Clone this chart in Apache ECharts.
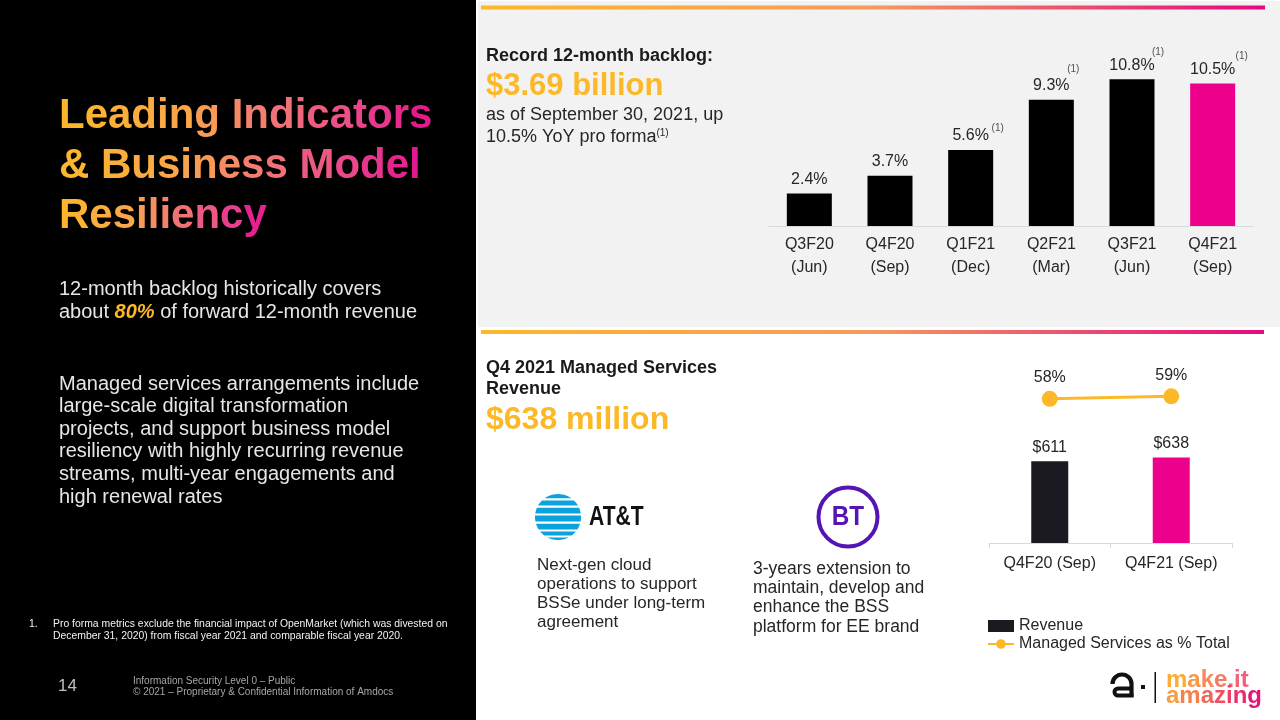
<!DOCTYPE html>
<html><head><meta charset="utf-8">
<script src="https://cdn.jsdelivr.net/npm/echarts@6/dist/echarts.min.js"></script>
<style>html,body{margin:0;padding:0;background:#fff}#c{width:1280px;height:720px}</style>
</head><body><div id="c"></div>
<script>
// ---------- data ----------
const backlogCategories = ['Q3F20\n(Jun)','Q4F20\n(Sep)','Q1F21\n(Dec)','Q2F21\n(Mar)','Q3F21\n(Jun)','Q4F21\n(Sep)'];
const backlogGrowth = [2.4, 3.7, 5.6, 9.3, 10.8, 10.5];
const backlogProForma = [false, false, true, true, true, true];
const msCategories = ['Q4F20 (Sep)', 'Q4F21 (Sep)'];
const msRevenue = [611, 638];
const msSharePct = [58, 59];

// ---------- styles ----------
const FONT = '"Liberation Sans", Arial, sans-serif';
const ORANGE = '#FDB827';
const MAGENTA = '#EC008C';
const DARK = '#262626';
const supOffsets = [[0,0],[0,0],[27,-22],[22,-30],[26,-27],[29,-27]];

const G = echarts.graphic;
function hGrad(stops){ return new G.LinearGradient(0,0,1,0, stops.map(c=>({offset:c[0], color:c[1]}))); }
const lineGrad = () => hGrad([[0,'#FDB827'],[0.5,'#F49A5E'],[1,'#E5097F']]);
const TITLE_STOPS = [[0,'#FDB829'],[0.35,'#F9A54C'],[0.55,'#F27B72'],[0.8,'#E9478C'],[1,'#E3138E']];

function txt(x, y, text, o){
  o = o || {};
  return { type:'text', x:x, y:y, z:o.z||5, scaleX:o.scaleX||1, style: Object.assign({
    text:text, fill:o.fill||DARK,
    font:(o.weight||'normal')+' '+(o.size||16)+'px '+(o.family||FONT),
    textVerticalAlign:'middle', verticalAlign:'middle', textAlign:o.align||'left', align:o.align||'left'
  }, o.style||{}) };
}

// per-character colour blend for gradient text
const mctx = document.createElement('canvas').getContext('2d');
function hex2rgb(h){ h=h.replace('#',''); return [parseInt(h.substr(0,2),16),parseInt(h.substr(2,2),16),parseInt(h.substr(4,2),16)]; }
function colorAt(stops, t){
  t=Math.max(0,Math.min(1,t));
  for(let i=1;i<stops.length;i++){
    if(t<=stops[i][0]){
      const a=stops[i-1], b=stops[i]; const f=(t-a[0])/(b[0]-a[0]||1);
      const ca=hex2rgb(a[1]), cb=hex2rgb(b[1]);
      return 'rgb('+ca.map((v,k)=>Math.round(v+(cb[k]-v)*f)).join(',')+')';
    }
  }
  return stops[stops.length-1][1];
}
function gradText(x, y, text, size, weight, stops){
  const font = weight+' '+size+'px '+FONT;
  mctx.font = font;
  const total = mctx.measureText(text).width;
  const out = [];
  for(let i=0;i<text.length;i++){
    const ch = text[i]; if(ch===' ') continue;
    const pre = mctx.measureText(text.slice(0,i)).width;
    const w = mctx.measureText(ch).width;
    out.push({type:'text', x:x+pre, y:y, z:5, style:{text:ch, font:font, fill:colorAt(stops,(pre+w/2)/total),
      textVerticalAlign:'middle', verticalAlign:'middle', textAlign:'left', align:'left'}});
  }
  return out;
}

// ---------- decoration / text ----------
const elems = [];
elems.push({type:'rect', z:-10, shape:{x:0,y:0,width:476,height:720}, style:{fill:'#000'}});
elems.push({type:'rect', z:-10, shape:{x:478,y:1,width:802,height:326}, style:{fill:'#F2F2F2'}});
elems.push({type:'rect', z:-9, shape:{x:481,y:5.5,width:784,height:4}, style:{fill:lineGrad()}});
elems.push({type:'rect', z:-9, shape:{x:481,y:330,width:783,height:4}, style:{fill:lineGrad()}});

// left panel
elems.push(...gradText(59,116,'Leading Indicators',42,'bold',TITLE_STOPS));
elems.push(...gradText(59,166,'& Business Model',42,'bold',TITLE_STOPS));
elems.push(...gradText(59,216,'Resiliency',42,'bold',TITLE_STOPS));
elems.push(txt(59,289,'12-month backlog historically covers',{size:20,fill:'#E6E6E6'}));
elems.push(txt(59,312,'about {b|80%} of forward 12-month revenue',{size:20,fill:'#E6E6E6',style:{rich:{b:{fill:ORANGE,color:ORANGE,fontWeight:'bold',fontStyle:'italic',fontSize:20,fontFamily:FONT}}}}));
['Managed services arrangements include','large-scale digital transformation','projects, and support business model','resiliency with highly recurring revenue','streams, multi-year engagements and','high renewal rates']
  .forEach((s,i)=>elems.push(txt(59,384+i*22.6,s,{size:20,fill:'#E6E6E6'})));
elems.push(txt(29,624,'1.',{size:10.4,fill:'#F2F2F2'}));
elems.push(txt(53,624,'Pro forma metrics exclude the financial impact of OpenMarket (which was divested on',{size:10.4,fill:'#F2F2F2'}));
elems.push(txt(53,636,'December 31, 2020) from fiscal year 2021 and comparable fiscal year 2020.',{size:10.4,fill:'#F2F2F2'}));
elems.push(txt(58,686,'14',{size:17,fill:'#BFBFBF'}));
elems.push(txt(133,681,'Information Security Level 0 \u2013 Public',{size:10,fill:'#A6A6A6'}));
elems.push(txt(133,692,'\u00A9 2021 \u2013 Proprietary & Confidential Information of Amdocs',{size:10,fill:'#A6A6A6'}));

// top panel text
elems.push(txt(486,56,'Record 12-month backlog:',{size:18,weight:'bold',fill:'#1A1A1A'}));
elems.push(txt(486,86,'$3.69 billion',{size:31,weight:'bold',fill:ORANGE}));
elems.push(txt(486,115,'as of September 30, 2021, up',{size:18,fill:DARK}));
elems.push(txt(486,137,'10.5% YoY pro forma{s|(1)}',{size:18,fill:DARK,style:{rich:{s:{fontSize:10,fontFamily:FONT,fill:DARK,color:DARK,verticalAlign:'top'}}}}));

// bottom panel text
elems.push(txt(486,368,'Q4 2021 Managed Services',{size:18,weight:'bold',fill:'#1A1A1A'}));
elems.push(txt(486,389,'Revenue',{size:18,weight:'bold',fill:'#1A1A1A'}));
elems.push(txt(486,420,'$638 million',{size:32,weight:'bold',fill:ORANGE}));
['Next-gen cloud','operations to support','BSSe under long-term','agreement'].forEach((s,i)=>elems.push(txt(537,565+i*19,s,{size:17,fill:DARK})));
['3-years extension to','maintain, develop and','enhance the BSS','platform for EE brand'].forEach((s,i)=>elems.push(txt(753,569+i*19.3,s,{size:17.5,fill:DARK})));

// AT&T globe
(function(){
  const cx=558, cy=517, r=23;
  const bands=[[-23,-18.8],[-16.6,-11.4],[-9.2,-3.6],[-1.4,4.6],[6.8,12.4],[14.4,18.6],[20.4,23]];
  bands.forEach(b=>{
    const pts=[]; const n=10;
    for(let k=0;k<=n;k++){const dy=b[0]+(b[1]-b[0])*k/n; pts.push([cx+Math.sqrt(Math.max(0,r*r-dy*dy)), cy+dy]);}
    for(let k=n;k>=0;k--){const dy=b[0]+(b[1]-b[0])*k/n; pts.push([cx-Math.sqrt(Math.max(0,r*r-dy*dy)), cy+dy]);}
    elems.push({type:'polygon', z:5, shape:{points:pts}, style:{fill:'#0AA3DE'}});
  });
  elems.push({type:'text', x:589, y:518, z:5, scaleX:0.78, style:{text:'AT&T', font:'bold 27px '+FONT, fill:'#111', textVerticalAlign:'middle', verticalAlign:'middle'}});
})();
// BT logo
elems.push({type:'circle', z:5, shape:{cx:848,cy:517,r:29.5}, style:{fill:'none',stroke:'#5514B4',lineWidth:4}});
elems.push({type:'text', x:848, y:518, z:5, scaleX:0.9, style:{text:'BT', font:'bold 27px '+FONT, fill:'#5514B4', textAlign:'center', align:'center', textVerticalAlign:'middle', verticalAlign:'middle'}});

// amdocs logo
elems.push({type:'arc', z:5, shape:{cx:1122,cy:684,r:9.5,startAngle:Math.PI,endAngle:2*Math.PI,clockwise:true}, style:{stroke:'#111',lineWidth:4.2,fill:null}});
elems.push({type:'line', z:5, shape:{x1:1131.5,y1:684,x2:1131.5,y2:697}, style:{stroke:'#111',lineWidth:4.2}});
elems.push({type:'line', z:5, shape:{x1:1118,y1:688.5,x2:1131.5,y2:688.5}, style:{stroke:'#111',lineWidth:4}});
elems.push({type:'line', z:5, shape:{x1:1118,y1:695.5,x2:1133.5,y2:695.5}, style:{stroke:'#111',lineWidth:4}});
elems.push({type:'arc', z:5, shape:{cx:1118,cy:692,r:3.5,startAngle:Math.PI/2,endAngle:Math.PI*1.5,clockwise:true}, style:{stroke:'#111',lineWidth:4,fill:null}});
elems.push({type:'rect', z:5, shape:{x:1141,y:685,width:4,height:4}, style:{fill:'#111'}});
elems.push({type:'rect', z:5, shape:{x:1154.5,y:672,width:1.5,height:31}, style:{fill:'#111'}});
elems.push(...gradText(1166,680,'make.it',24,'bold',[[0,'#FDB827'],[1,'#EE5A86']]));
elems.push(...gradText(1166,696,'amazing',24,'bold',[[0,'#FCA83A'],[1,'#E5097F']]));

// ---------- chart ----------
const chart = echarts.init(document.getElementById('c'), null, {renderer:'canvas'});
chart.setOption({
  animation:false,
  backgroundColor:'#fff',
  textStyle:{fontFamily:FONT},
  graphic:{elements:elems},
  grid:[
    {left:769, right:27, top:63, bottom:494},
    {left:989, right:48, top:369, bottom:177}
  ],
  xAxis:[
    {gridIndex:0, type:'category', data:backlogCategories,
     axisLine:{lineStyle:{color:'#D9D9D9',width:1}}, axisTick:{show:false},
     axisLabel:{color:DARK, fontSize:16, lineHeight:23, margin:7, fontFamily:FONT}},
    {gridIndex:1, type:'category', data:msCategories,
     axisLine:{lineStyle:{color:'#D9D9D9',width:1}}, axisTick:{show:true,length:5,lineStyle:{color:'#D9D9D9'}},
     axisLabel:{color:DARK, fontSize:16, margin:13, fontFamily:FONT}}
  ],
  yAxis:[
    {gridIndex:0, type:'value', min:0, max:12, show:false},
    {gridIndex:1, type:'value', min:0, max:1300, show:false},
    {gridIndex:1, type:'value', min:0, max:70, show:false}
  ],
  legend:{
    orient:'vertical', left:982, top:613, itemWidth:26, itemHeight:12, itemGap:2,
    textStyle:{color:DARK, fontSize:16, fontFamily:FONT},
    data:[{name:'Revenue', icon:'rect'}, {name:'Managed Services as % Total'}]
  },
  series:[
    {type:'bar', xAxisIndex:0, yAxisIndex:0, barWidth:45,
     data: backlogGrowth.map((v,i)=>({value:v, itemStyle:{color: i===backlogGrowth.length-1 ? MAGENTA : '#000'}})),
     label:{show:true, position:'top', distance:6, color:DARK, fontSize:16, fontFamily:FONT, formatter:p=>p.value+'%'}},
    {type:'scatter', xAxisIndex:0, yAxisIndex:0, symbolSize:0, silent:true, z:6,
     data: backlogGrowth.map((v,i)=>({value:v, label:{show:backlogProForma[i], offset:supOffsets[i]}})),
     label:{position:'inside', color:DARK, fontSize:10, fontFamily:FONT, formatter:'(1)'}},
    {type:'bar', name:'Revenue', xAxisIndex:1, yAxisIndex:1, barWidth:37,
     itemStyle:{color:'#1B1A20'},
     data: msRevenue.map((v,i)=>i===1?{value:v,itemStyle:{color:MAGENTA}}:v),
     label:{show:true, position:'top', distance:6, color:DARK, fontSize:16, fontFamily:FONT, formatter:p=>'$'+p.value}},
    {type:'line', name:'Managed Services as % Total', xAxisIndex:1, yAxisIndex:2,
     data: msSharePct, color:ORANGE, symbol:'circle', symbolSize:16,
     lineStyle:{color:ORANGE, width:3}, itemStyle:{color:ORANGE},
     label:{show:true, position:'top', distance:5, color:DARK, fontSize:16, fontFamily:FONT, formatter:p=>p.value+'%'}}
  ]
});
</script></body></html>
